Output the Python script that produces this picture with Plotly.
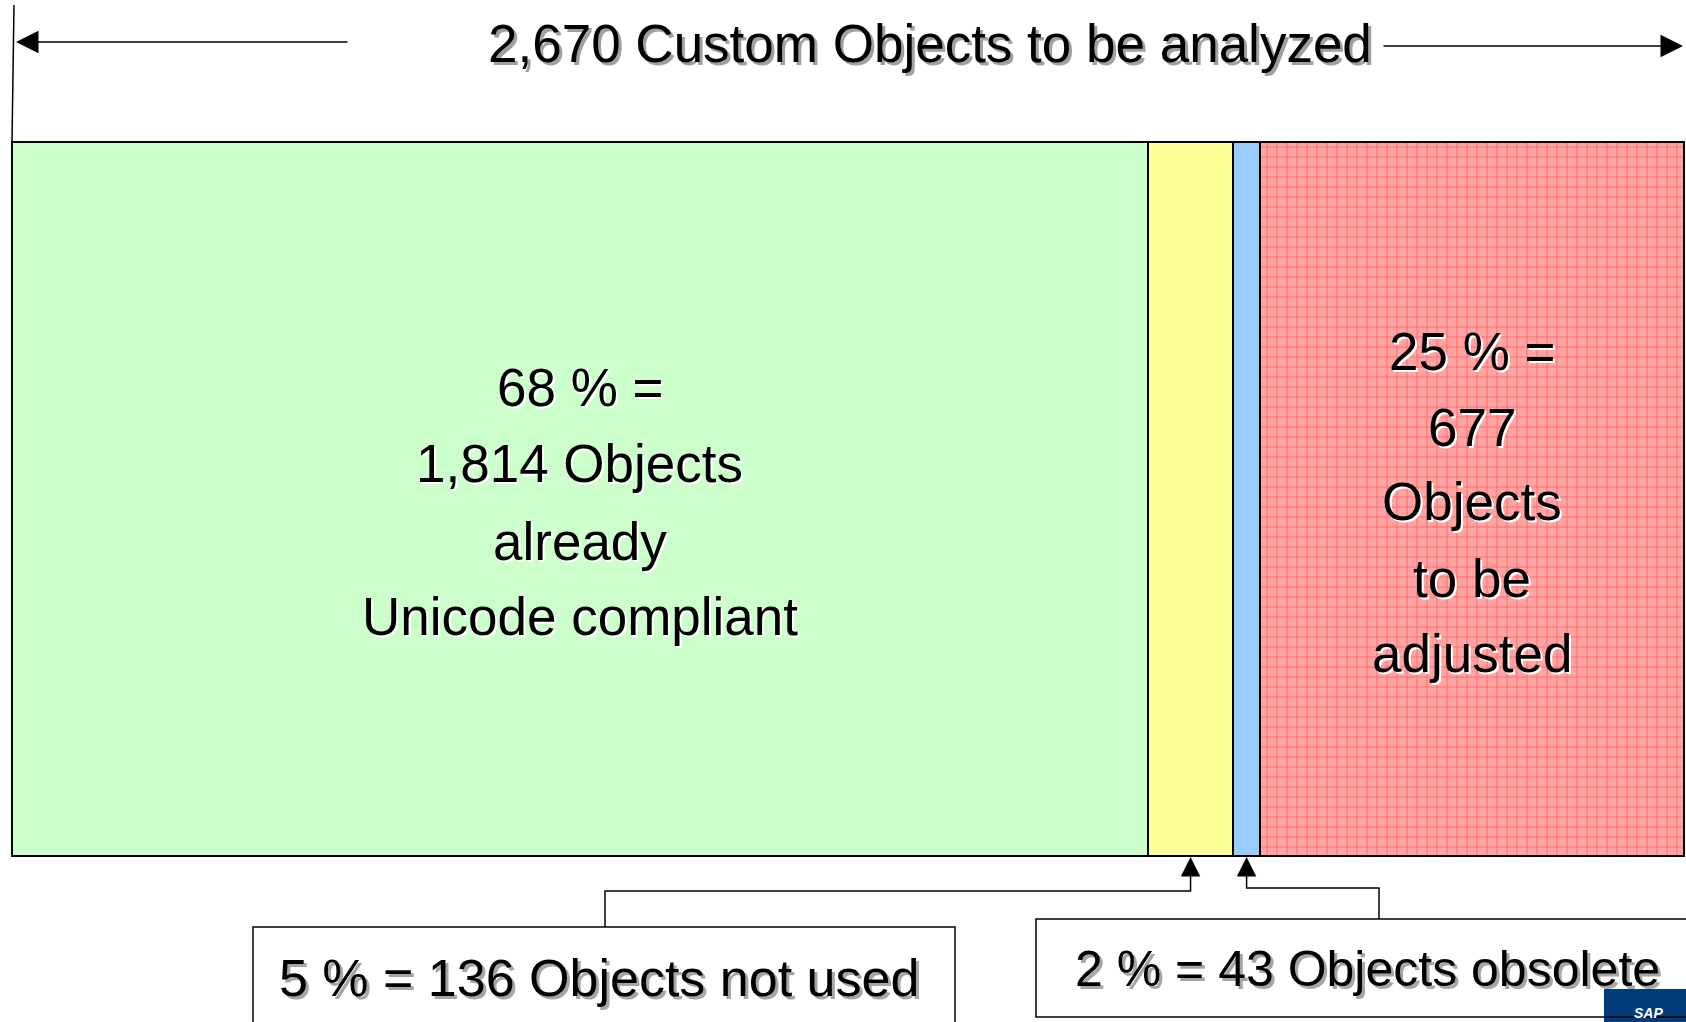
import plotly.graph_objects as go

# ---------------- data ----------------
segments = ["already Unicode compliant", "not used", "obsolete", "to be adjusted"]
counts = [1814, 136, 43, 677]
percents = [68, 5, 2, 25]
total = 2670
colors = ["#ccffcc", "#ffff99", "#99ccff", "#ffa3a3"]

green_words = ["Objects", "already", "Unicode compliant"]
red_words = ["Objects", "to be", "adjusted"]
title_words = "Custom Objects to be analyzed"

# ---------------- geometry helpers (pixels -> paper) ----------------
W, H = 1686, 1022
L, R, T, B = 12, 1684, 142, 856


def px(x):
    return (x - L) / (R - L)


def py(y):
    return (B - y) / (B - T)


FONT = "Liberation Sans, Arial, sans-serif"

fig = go.Figure()
for i, (name, c, col) in enumerate(zip(segments, counts, colors)):
    marker = dict(color=col, line=dict(color="black", width=2))
    if i == 3:
        marker["pattern"] = dict(shape="+", fgcolor="#ff3030", bgcolor="#ffa3a3",
                                 size=10, solidity=0.18)
    fig.add_trace(go.Bar(x=[c], y=[0], orientation="h", name=name, width=1,
                         marker=marker, hoverinfo="skip", showlegend=False))

fig.update_layout(
    barmode="stack",
    width=W, height=H,
    margin=dict(l=L, r=W - R, t=T, b=H - B, pad=0),
    paper_bgcolor="white", plot_bgcolor="white",
    xaxis=dict(range=[0, total], visible=False, fixedrange=True),
    yaxis=dict(range=[-0.5, 0.5], visible=False, fixedrange=True),
    bargap=0,
)

shapes = []
annots = []


def text(x, y, s, size, shadow, xanchor="center", family=FONT, sh=2):
    annots.append(dict(x=x, y=y, xref="paper", yref="paper", text=s, showarrow=False,
                       xanchor=xanchor, yanchor="middle", xshift=sh, yshift=-sh,
                       font=dict(family=family, size=size, color=shadow)))
    annots.append(dict(x=x, y=y, xref="paper", yref="paper", text=s, showarrow=False,
                       xanchor=xanchor, yanchor="middle",
                       font=dict(family=family, size=size, color="black")))


def arrow(x, y, ax, ay, size=2.6):
    annots.append(dict(x=x, y=y, xref="paper", yref="paper", text="", showarrow=True,
                       ax=ax, ay=ay, arrowhead=2, arrowsize=size, arrowwidth=1.5,
                       arrowcolor="black"))


# outer border of the bar
shapes.append(dict(type="rect", xref="paper", yref="paper", x0=0, x1=1, y0=0, y1=1,
                   line=dict(color="black", width=2)))

# cumulative positions from data
cum = [0]
for c in counts:
    cum.append(cum[-1] + c)
mid = [(cum[i] + cum[i + 1]) / 2 / total for i in range(len(counts))]

# labels inside the bar
green_lines = [f"{percents[0]} % =", f"{counts[0]:,} {green_words[0]}"] + green_words[1:]
for s, yy in zip(green_lines, [387, 464, 541, 616]):
    text(mid[0], py(yy), s, 53, "white")

red_lines = [f"{percents[3]} % =", f"{counts[3]}"] + red_words
for s, yy in zip(red_lines, [351, 427, 501, 578, 653]):
    text(mid[3], py(yy), s, 53, "white")

# title with arrows
text(px(930), py(43), f"{total:,} {title_words}", 53, "#a0a0a0", sh=3)
shapes.append(dict(type="line", xref="paper", yref="paper", x0=px(14), x1=px(12),
                   y0=py(5), y1=py(142), line=dict(color="black", width=1.5)))
arrow(px(16), py(42), 349 - 16, 0, 3)
arrow(px(1683), py(46), 1382 - 1683, 0, 3)

# bottom box 1 (not used)
shapes.append(dict(type="rect", xref="paper", yref="paper", x0=px(253), x1=px(955),
                   y0=py(1040), y1=py(927), line=dict(color="black", width=1.5),
                   fillcolor="white"))
shapes.append(dict(type="path", xref="paper", yref="paper",
                   path=f"M {px(605)},{py(927)} L {px(605)},{py(891)} L {mid[1]},{py(891)} L {mid[1]},{py(872)}",
                   line=dict(color="black", width=1.5)))
arrow(mid[1], py(857), 0, 20)
text(px(277), py(978), f"{percents[1]} % = {counts[1]} Objects {segments[1]}", 52, "#a6a6a6",
     xanchor="left", sh=3)

# bottom box 2 (obsolete)
shapes.append(dict(type="rect", xref="paper", yref="paper", x0=px(1036), x1=px(1700),
                   y0=py(1017), y1=py(919), line=dict(width=0), fillcolor="white"))
# logo block
shapes.append(dict(type="rect", xref="paper", yref="paper", x0=px(1604), x1=px(1700),
                   y0=py(1030), y1=py(989), line=dict(width=0), fillcolor="#003d7a"))
shapes.append(dict(type="rect", xref="paper", yref="paper", x0=px(1036), x1=px(1700),
                   y0=py(1017), y1=py(919), line=dict(color="black", width=1.5)))
shapes.append(dict(type="path", xref="paper", yref="paper",
                   path=f"M {px(1379)},{py(919)} L {px(1379)},{py(888)} L {mid[2]},{py(888)} L {mid[2]},{py(872)}",
                   line=dict(color="black", width=1.5)))
arrow(mid[2], py(857), 0, 17)
annots.append(dict(x=px(1648), y=py(1013), xref="paper", yref="paper", text="<b><i>SAP</i></b>",
                   showarrow=False, xanchor="center", yanchor="middle",
                   font=dict(family=FONT, size=14, color="white")))
text(px(1073), py(969), f"{percents[2]} % = {counts[2]} Objects {segments[2]}", 50, "#a6a6a6",
     xanchor="left", sh=3)

fig.update_layout(shapes=shapes, annotations=annots)
fig.write_html("out.html", config={"displayModeBar": False},
               post_script="document.body.style.margin='0';document.body.style.overflow='hidden';")
